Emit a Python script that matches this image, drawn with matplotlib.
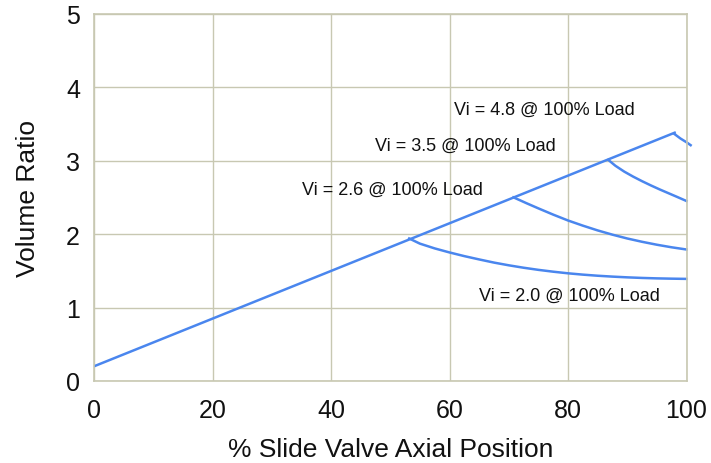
import matplotlib
matplotlib.use("Agg")
import matplotlib.pyplot as plt

plt.rcParams['font.family'] = ['Liberation Sans', 'DejaVu Sans']

# Main line: volume ratio along slide valve position
main_x = [0, 98]
main_y = [0.2, 3.38]

# Curves for different Vi at 100% load
vi20_x = [53.2, 55, 57.5, 60, 62.5, 65, 67.5, 70, 72.5, 75, 77.5, 80, 82.5, 85, 87.5, 90, 92.5, 95, 97.5, 100]
vi20_y = [1.94, 1.87, 1.805, 1.75, 1.70, 1.655, 1.612, 1.575, 1.542, 1.513, 1.488, 1.466, 1.448, 1.433, 1.421, 1.411, 1.403, 1.397, 1.393, 1.39]

vi26_x = [70.8, 73, 75, 77.5, 80, 82.5, 85, 87.5, 90, 92.5, 95, 97.5, 100]
vi26_y = [2.50, 2.42, 2.35, 2.265, 2.185, 2.115, 2.05, 1.992, 1.94, 1.895, 1.855, 1.82, 1.79]

vi35_x = [86.8, 88, 89.5, 91, 92.5, 94, 95.5, 97, 98.5, 100]
vi35_y = [3.01, 2.93, 2.85, 2.782, 2.72, 2.662, 2.607, 2.555, 2.503, 2.45]

vi48_x = [98.0, 99.0, 100.0, 100.7]
vi48_y = [3.36, 3.30, 3.25, 3.21]

labels = ["Vi = 4.8 @ 100% Load", "Vi = 3.5 @ 100% Load",
          "Vi = 2.6 @ 100% Load", "Vi = 2.0 @ 100% Load"]
label_x = [60.8, 47.5, 35.1, 65.0]
label_y = [3.70, 3.21, 2.61, 1.17]

blue = '#4a86ee'
gridc = '#c8c8b2'

fig = plt.figure(figsize=(7.11, 4.64), dpi=100)
ax = fig.add_axes([94/711, 1-382/464, (686.5-94)/711, (382-14.7)/464])

ax.plot(main_x, main_y, color=blue, lw=1.8)
for xs, ys in [(vi20_x, vi20_y), (vi26_x, vi26_y), (vi35_x, vi35_y), (vi48_x, vi48_y)]:
    ax.plot(xs, ys, color=blue, lw=1.8, clip_on=False, solid_joinstyle='round')

for t, x, y in zip(labels, label_x, label_y):
    ax.text(x, y, t, fontsize=13, ha='left', va='center', color='#111111')

ax.set_xlim(0, 100)
ax.set_ylim(0, 5)
ax.set_xticks([0, 20, 40, 60, 80, 100])
ax.set_yticks([0, 1, 2, 3, 4, 5])
ax.grid(True, color=gridc, lw=1)
ax.set_axisbelow(True)
for s in ax.spines.values():
    s.set_color(gridc)
    s.set_linewidth(1.2)
ax.tick_params(length=0, labelsize=18, colors='#111111')
ax.tick_params(axis='y', pad=10)
ax.tick_params(axis='x', pad=12)
ax.set_xlabel('% Slide Valve Axial Position', fontsize=19, color='#111111', labelpad=11)
ax.set_ylabel('Volume Ratio', fontsize=19, color='#111111', labelpad=19)

fig.savefig('out.png', dpi=100)
